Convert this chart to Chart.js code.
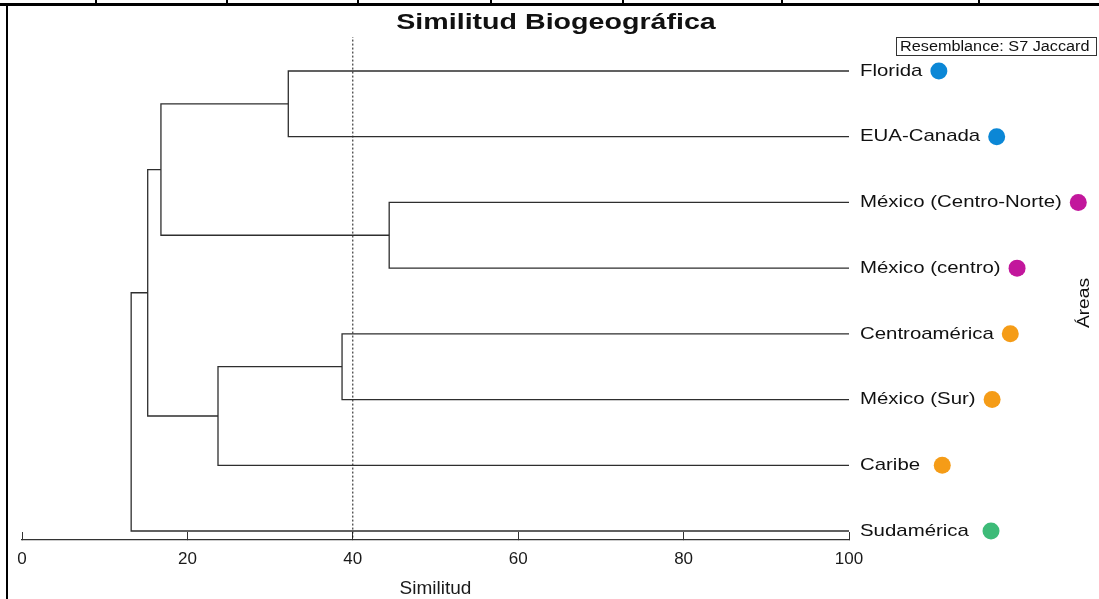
<!DOCTYPE html>
<html lang="es">
<head>
  <meta charset="UTF-8" />
  <title>Similitud Biogeográfica</title>
  <script src="https://cdn.jsdelivr.net/npm/chart.js"></script>
  <style>
    body {
      margin: 0;
      background: #fff;
    }

    .wrap {
      position: relative;
      width: 1099px;
      height: 599px;
    }
  </style>
</head>
<body>
  <div class="wrap"><canvas id="dendro"></canvas></div>

  <script>
    // leaves, top to bottom
    const areas = ['Florida', 'EUA-Canada', 'México (Centro-Norte)', 'México (centro)',
                   'Centroamérica', 'México (Sur)', 'Caribe ', 'Sudamérica '];
    const areaGroup = [0, 0, 1, 1, 2, 2, 2, 3];
    const groupColors = ['#0b87d6', '#c2179c', '#f59c17', '#3dbb78'];

    // joins: node a + node b at a similarity level; new nodes get ids 8, 9, ...
    const joinA = [0, 2, 4, 10, 8, 12, 13];
    const joinB = [1, 3, 5, 6, 9, 11, 7];
    const joinLevel = [32.2, 44.4, 38.7, 23.7, 16.8, 15.2, 13.2];

    const xTicks = [0, 20, 40, 60, 80, 100];
    const cutLevel = 40;

    const font = "'Liberation Sans', Arial, sans-serif";

    // build the brackets
    const nodeX = areas.map(() => 100);
    const nodeY = areas.map((_, i) => i);
    const branches = [];
    joinA.forEach((a, k) => {
      const b = joinB[k];
      const h = joinLevel[k];
      branches.push([
        { x: nodeX[a], y: nodeY[a] },
        { x: h, y: nodeY[a] },
        { x: h, y: nodeY[b] },
        { x: nodeX[b], y: nodeY[b] }
      ]);
      nodeX.push(h);
      nodeY.push((nodeY[a] + nodeY[b]) / 2);
    });

    const datasets = branches.map(data => ({
      data,
      showLine: true,
      borderColor: '#2e2e2e',
      borderWidth: 1.3,
      pointRadius: 0
    }));

    datasets.push({
      data: [{ x: cutLevel, y: -0.6 }, { x: cutLevel, y: 7.2 }],
      showLine: true,
      borderColor: '#111',
      borderWidth: 1,
      borderDash: [2, 2],
      pointRadius: 0
    });

    function stretchText(ctx, text, x, y, sx, align) {
      ctx.save();
      ctx.translate(x, y);
      ctx.scale(sx, 1);
      ctx.textAlign = align;
      ctx.fillText(text, 0, 0);
      ctx.restore();
    }

    const extras = {
      id: 'extras',
      afterDraw(chart) {
        const ctx = chart.ctx;
        const area = chart.chartArea;
        const yScale = chart.scales.y;

        ctx.save();
        ctx.fillStyle = '#000';

        // page frame
        ctx.fillRect(0, 3, 1099, 3);
        ctx.fillRect(6, 3, 2, 596);
        [95, 226, 357, 490, 622, 781, 978].forEach(x => ctx.fillRect(x, 0, 2, 4));

        // title
        ctx.fillStyle = '#111';
        ctx.textBaseline = 'alphabetic';
        ctx.font = 'bold 22px ' + font;
        stretchText(ctx, 'Similitud Biogeográfica', 556, 29, 1.3, 'center');

        // resemblance box
        ctx.strokeStyle = '#333';
        ctx.lineWidth = 1;
        ctx.strokeRect(896.5, 37.5, 200, 18);
        ctx.font = '14px ' + font;
        stretchText(ctx, 'Resemblance: S7 Jaccard', 900, 51, 1.16, 'left');

        // leaf labels and dots
        ctx.font = '17px ' + font;
        ctx.textBaseline = 'middle';
        const labelX = area.right + 11;
        areas.forEach((name, i) => {
          const y = yScale.getPixelForValue(i);
          ctx.fillStyle = '#111';
          stretchText(ctx, name, labelX, y, 1.2, 'left');
          const w = ctx.measureText(name).width * 1.2;
          ctx.fillStyle = groupColors[areaGroup[i]];
          ctx.beginPath();
          ctx.arc(labelX + w + 8 + 8.5, y, 8.5, 0, Math.PI * 2);
          ctx.fill();
        });

        // right axis title
        ctx.fillStyle = '#111';
        ctx.font = '16px ' + font;
        ctx.translate(1085, 303);
        ctx.rotate(-Math.PI / 2);
        stretchText(ctx, 'Áreas', 0, 0, 1.2, 'center');

        ctx.restore();
      }
    };

    new Chart(document.getElementById('dendro'), {
      type: 'scatter',
      data: { datasets },
      options: {
        responsive: true,
        maintainAspectRatio: false,
        animation: false,
        layout: { padding: { left: 22, right: 250, top: 37, bottom: 0 } },
        plugins: {
          legend: { display: false },
          tooltip: { enabled: false }
        },
        scales: {
          x: {
            type: 'linear',
            min: 0,
            max: 100,
            afterBuildTicks: s => { s.ticks = xTicks.map(v => ({ value: v })); },
            afterFit: s => { s.height = 59; },
            grid: { drawOnChartArea: false, drawTicks: true, tickLength: -8, color: '#333' },
            border: { display: true, color: '#333', width: 1.2 },
            ticks: { color: '#1a1a1a', padding: 16.8, font: { family: font, size: 17 } },
            title: {
              display: true,
              text: 'Similitud',
              color: '#1a1a1a',
              font: { family: font, size: 19 },
              padding: { top: 0, bottom: -1 }
            }
          },
          y: {
            type: 'linear',
            reverse: true,
            min: -0.517,
            max: 7.137,
            display: false
          }
        }
      },
      plugins: [extras]
    });
  </script>
</body>
</html>
